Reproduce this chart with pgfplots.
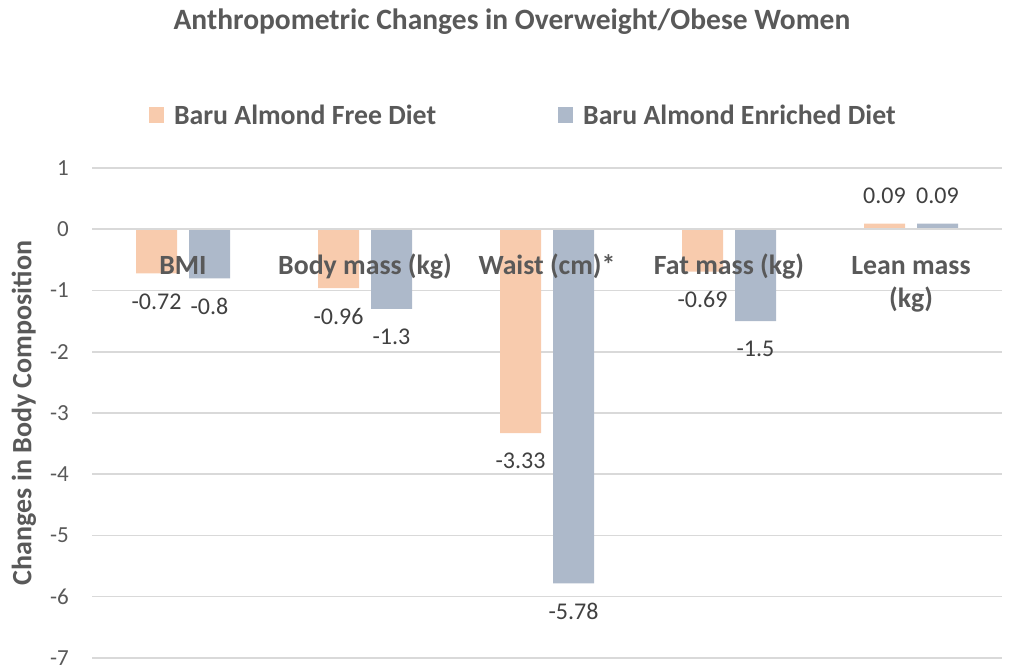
\documentclass[border=0pt]{standalone}
\usepackage{pgfplots}
\pgfplotsset{compat=1.18}
\usepackage{fontspec}
\setmainfont{Carlito}
\definecolor{cOrange}{HTML}{F8CBAD}
\definecolor{cBlue}{HTML}{ADB9CA}
\definecolor{cGrid}{HTML}{D9D9D9}
\definecolor{cText}{HTML}{595959}
\definecolor{cLabel}{HTML}{404040}
\begin{document}
\begin{tikzpicture}
\useasboundingbox (0,0) rectangle (1012pt,666pt);
\begin{axis}[
  at={(92pt,8pt)}, anchor=south west,
  scale only axis, width=910pt, height=490pt,
  ybar=12pt, bar width=41pt,
  xmin=-0.5, xmax=4.5, ymin=-7, ymax=1,
  ytick={-7,-6,-5,-4,-3,-2,-1,0,1},
  xtick=\empty,
  ymajorgrids, grid style={cGrid, line width=1.5pt},
  axis line style={draw=none}, major tick length=0pt,
  /pgf/number format/assume math mode=true,
  yticklabel style={font=\fontsize{23}{27}\selectfont, text=cText, anchor=east, inner sep=0pt, xshift=-23pt},
  ylabel={Changes in Body Composition},
  ylabel style={at={(axis description cs:-0.0747,0.5)}, anchor=center, rotate=0, font=\bfseries\fontsize{28}{33}\selectfont, text=cText},
  nodes near coords,
  nodes near coords style={font=\fontsize{24}{28}\selectfont, text=cLabel, inner sep=20pt, /pgf/number format/fixed, /pgf/number format/precision=2, /pgf/number format/assume math mode=true},
  legend columns=2,
  legend image code/.code={\fill[#1] (0pt,-8pt) rectangle (15pt,8pt);},
  legend style={at={(axis description cs:0.474,1.108)}, anchor=center, draw=none, fill=none,
    font=\bfseries\fontsize{27.8}{32}\selectfont, text=cText,
    /tikz/every odd column/.append style={column sep=8pt},
    /tikz/every even column/.append style={column sep=120pt}},
]
\addplot[fill=cOrange, draw=none] coordinates {(0,-0.72) (1,-0.96) (2,-3.33) (3,-0.69) (4,0.09)};
\addlegendentry{Baru Almond Free Diet}
\addplot[fill=cBlue, draw=none] coordinates {(0,-0.8) (1,-1.3) (2,-5.78) (3,-1.5) (4,0.09)};
\addlegendentry{Baru Almond Enriched Diet}
\draw[cGrid, line width=2pt] (axis cs:-0.5,0) -- (axis cs:4.5,0);
\begin{scope}[every node/.style={font=\bfseries\fontsize{27.8}{33}\selectfont, text=cText, anchor=base, align=center}]
\node at (axis cs:0,-0.734) {BMI};
\node at (axis cs:1,-0.734) {Body mass (kg)};
\node at (axis cs:2,-0.734) {Waist (cm)*};
\node at (axis cs:3,-0.734) {Fat mass (kg)};
\node[yshift=-33pt] at (axis cs:4,-0.734) {Lean mass\\(kg)};
\end{scope}
\end{axis}
\node[font=\bfseries\fontsize{29.5}{34}\selectfont, text=cText] at (512pt,644pt) {Anthropometric Changes in Overweight/Obese Women};
\end{tikzpicture}
\end{document}
